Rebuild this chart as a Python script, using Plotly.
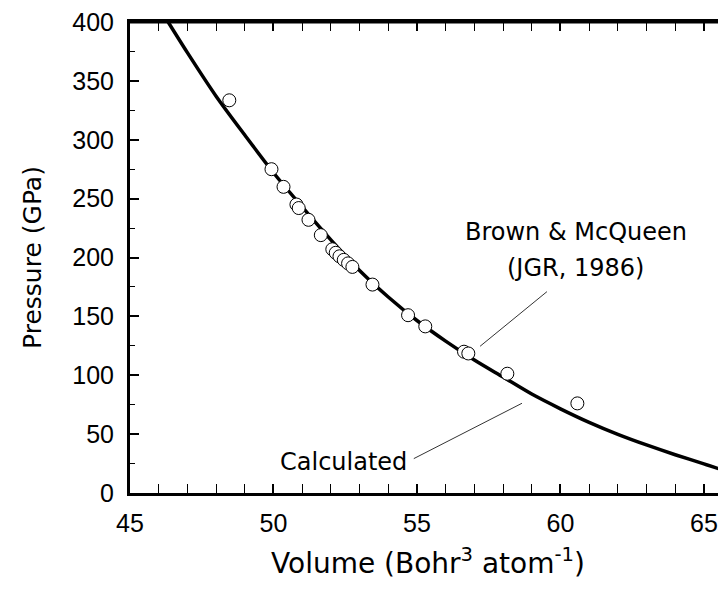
import plotly.graph_objects as go

# Calculated curve
calc_volume = [46.33, 47, 48, 49, 50, 51, 52, 53, 54, 55, 56, 57, 58, 59, 60, 61, 62, 63, 64, 65, 65.77]
calc_pressure = [400, 374, 337, 304, 272, 243, 215, 189, 166.5, 146.5, 129, 113, 98.5, 84, 71.5, 60, 49.8, 40.8, 32.5, 24.8, 18.5]

# Brown & McQueen (JGR, 1986) shock data
obs_volume = [48.46, 49.93, 50.35, 50.80, 50.88, 51.22, 51.65, 52.05, 52.17, 52.30, 52.45, 52.60, 52.75,
              53.45, 54.69, 55.29, 56.64, 56.79, 58.15, 60.59]
obs_pressure = [333.5, 275, 260, 245, 242, 232, 219, 207, 204, 201, 198, 195, 192,
                177, 151, 141.5, 120, 118.5, 101.3, 76.1]

# annotation leader lines (data coordinates)
brown_leader_x = [59.53, 57.20]
brown_leader_y = [171, 124.6]
calc_leader_x = [54.89, 58.66]
calc_leader_y = [29.2, 76.2]

x_ticks = [45, 50, 55, 60, 65]
y_ticks = [0, 50, 100, 150, 200, 250, 300, 350, 400]

fig = go.Figure()
fig.add_trace(go.Scatter(x=calc_volume, y=calc_pressure, mode="lines",
                         line=dict(color="black", width=3.5, shape="spline", smoothing=0.8),
                         showlegend=False, hoverinfo="skip"))
fig.add_trace(go.Scatter(x=obs_volume, y=obs_pressure, mode="markers",
                         marker=dict(symbol="circle", size=13, color="white",
                                     line=dict(color="black", width=1)),
                         showlegend=False))
fig.add_trace(go.Scatter(x=brown_leader_x, y=brown_leader_y, mode="lines",
                         line=dict(color="#333", width=1), showlegend=False, hoverinfo="skip"))
fig.add_trace(go.Scatter(x=calc_leader_x, y=calc_leader_y, mode="lines",
                         line=dict(color="#333", width=1), showlegend=False, hoverinfo="skip"))
# invisible trace to carry right-hand tick marks
fig.add_trace(go.Scatter(x=[45], y=[0], yaxis="y2", mode="markers",
                         marker=dict(opacity=0), showlegend=False, hoverinfo="skip"))

ann_font = dict(family="DejaVu Sans", size=24, color="black")
fig.add_annotation(x=60.54, y=222, text="Brown & McQueen", showarrow=False, font=ann_font,
                   xanchor="center", yanchor="middle")
fig.add_annotation(x=60.54, y=191, text="(JGR, 1986)", showarrow=False, font=ann_font,
                   xanchor="center", yanchor="middle")
fig.add_annotation(x=52.45, y=26, text="Calculated", showarrow=False, font=ann_font,
                   xanchor="center", yanchor="middle")

tick_font = dict(family="Liberation Sans, Arial", size=25, color="black")

fig.update_layout(
    width=718, height=577,
    margin=dict(l=122, r=0, t=10, b=92),
    paper_bgcolor="white", plot_bgcolor="white",
    xaxis=dict(range=[45, 65.77], tickvals=x_ticks, ticks="inside", ticklen=9, tickwidth=1.5,
               tickcolor="black", showline=True, linecolor="black", linewidth=3,
               mirror="allticks", showgrid=False, zeroline=False, tickfont=tick_font,
               ticklabelstandoff=6, ticklabeloverflow="allow",
               minor=dict(dtick=1, ticks="inside", ticklen=5, tickwidth=1, tickcolor="black"),
               title=dict(text="Volume (Bohr<sup>3</sup> atom<sup>-1</sup>)",
                          font=dict(family="DejaVu Sans", size=28, color="black"),
                          standoff=18)),
    yaxis=dict(range=[0, 400], tickvals=y_ticks, ticks="inside", ticklen=9, tickwidth=1.5,
               tickcolor="black", showline=True, linecolor="black", linewidth=3,
               showgrid=False, zeroline=False, tickfont=tick_font, ticklabelstandoff=8,
               ticklabeloverflow="allow",
               minor=dict(dtick=25, ticks="inside", ticklen=5, tickwidth=1, tickcolor="black"),
               title=dict(text="Pressure (GPa)",
                          font=dict(family="DejaVu Sans", size=25, color="black"),
                          standoff=24)),
    yaxis2=dict(range=[0, 400], overlaying="y", side="right", tickvals=y_ticks,
                ticks="inside", ticklen=5, tickwidth=1, tickcolor="black",
                showticklabels=False, showline=False, showgrid=False, zeroline=False),
)
# top frame line of the plotting area
fig.add_shape(type="line", xref="paper", yref="paper", x0=0, x1=1, y0=1, y1=1,
              line=dict(color="black", width=3))

fig.write_html("out.html")
